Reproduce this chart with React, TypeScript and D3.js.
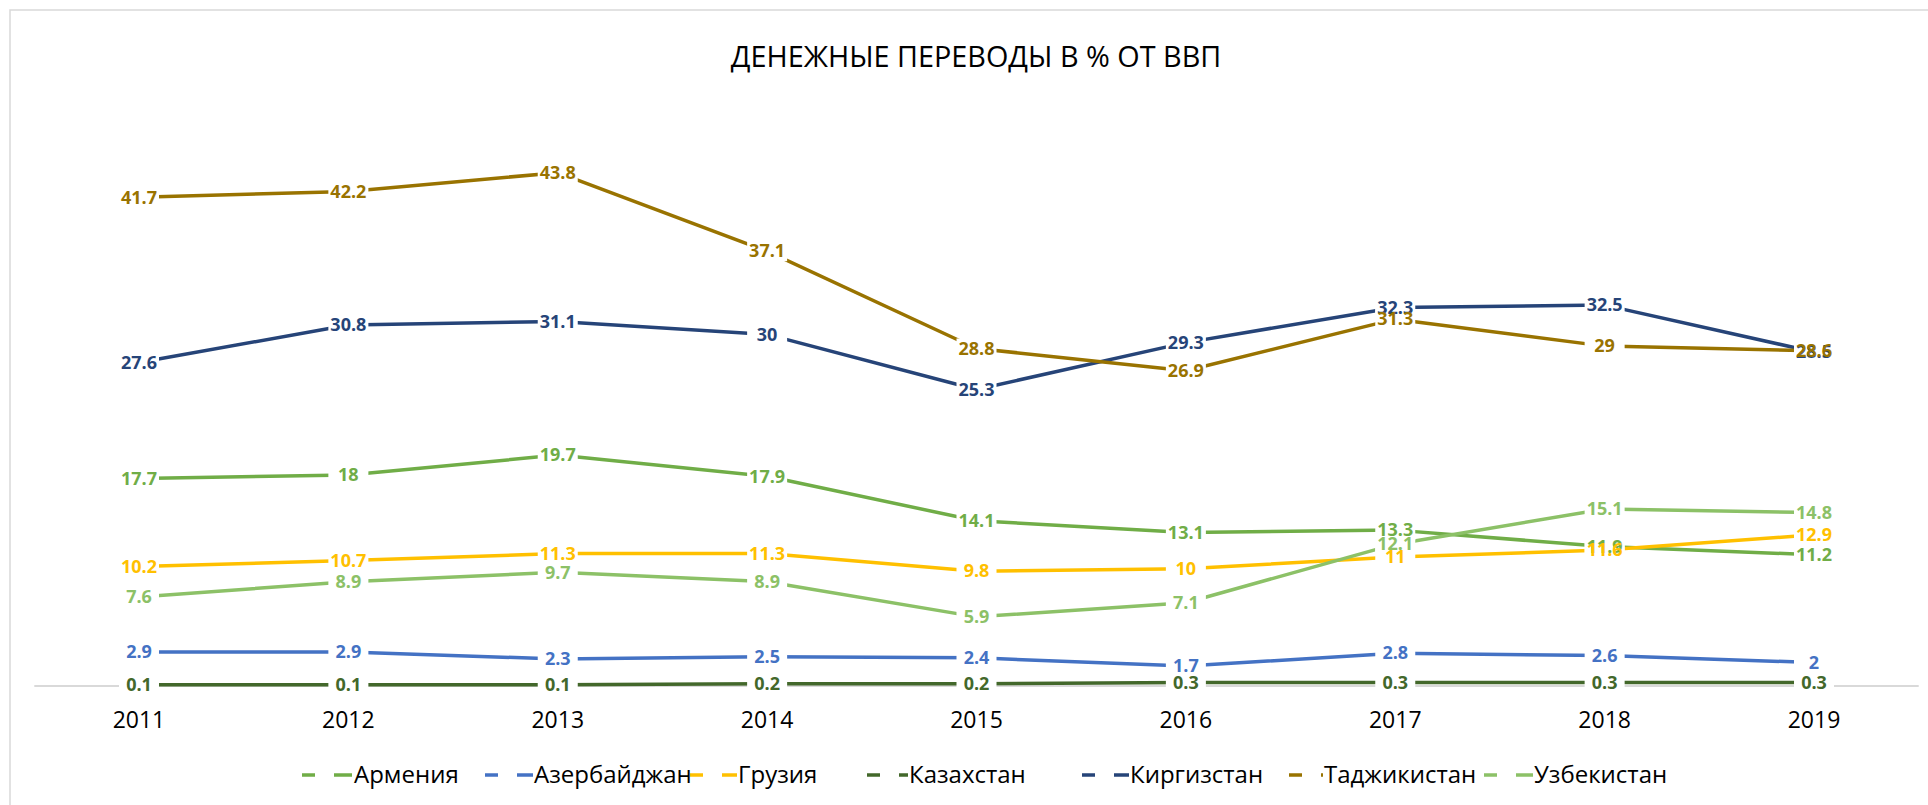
import React from "react";
import * as d3 from "d3";

// values (% of GDP)
const years = ["2011", "2012", "2013", "2014", "2015", "2016", "2017", "2018", "2019"];
const countries = ["Армения", "Азербайджан", "Грузия", "Казахстан", "Киргизстан", "Таджикистан", "Узбекистан"];
const armenia = [17.7, 18, 19.7, 17.9, 14.1, 13.1, 13.3, 11.9, 11.2];
const azerbaijan = [2.9, 2.9, 2.3, 2.5, 2.4, 1.7, 2.8, 2.6, 2];
const georgia = [10.2, 10.7, 11.3, 11.3, 9.8, 10, 11, 11.6, 12.9];
const kazakhstan = [0.1, 0.1, 0.1, 0.2, 0.2, 0.3, 0.3, 0.3, 0.3];
const kyrgyzstan = [27.6, 30.8, 31.1, 30, 25.3, 29.3, 32.3, 32.5, 28.5];
const tajikistan = [41.7, 42.2, 43.8, 37.1, 28.8, 26.9, 31.3, 29, 28.6];
const uzbekistan = [7.6, 8.9, 9.7, 8.9, 5.9, 7.1, 12.1, 15.1, 14.8];
const colors = ["#70AD47", "#4472C4", "#FFC000", "#43682B", "#264478", "#997300", "#8CC167"];

const seriesValues = [armenia, azerbaijan, georgia, kazakhstan, kyrgyzstan, tajikistan, uzbekistan];

// legend layout (key start / text start)
const legendKeyX = [302, 485, 690, 867, 1082, 1289, 1484];
const legendTextX = [354, 534, 738, 909, 1130, 1324, 1534];

const W = 1928;
const H = 805;
const font = "'Open Sans', 'Noto Sans', sans-serif";

export default function App() {
  const x = d3.scaleBand<string>().domain(years).range([34.3, 1918.7]).padding(0);
  const y = d3.scaleLinear().domain([0, 50]).range([686, 100]);
  const cx = (yr: string) => (x(yr) ?? 0) + x.bandwidth() / 2;

  const line = d3
    .line<number>()
    .x((_, i) => cx(years[i]))
    .y((d) => y(d));

  const boxW = 40;
  const boxH = 20;

  return (
    <div style={{ position: "absolute", left: 0, top: 0 }}>
      <svg width={W} height={H} style={{ display: "block" }}>
        <rect x={0} y={0} width={W} height={H} fill="#fff" />
        <rect x={10} y={10} width={W + 20} height={H + 20} fill="none" stroke="#d9d9d9" strokeWidth={1.5} />

        <defs>
          <mask id="labelMask" maskUnits="userSpaceOnUse" x={0} y={0} width={W} height={H}>
            <rect x={0} y={0} width={W} height={H} fill="#fff" />
            {seriesValues.map((vals, s) =>
              vals.map((v, i) => (
                <rect
                  key={`m${s}-${i}`}
                  x={cx(years[i]) - boxW / 2}
                  y={y(v) - boxH / 2}
                  width={boxW}
                  height={boxH}
                  fill="#000"
                />
              ))
            )}
          </mask>
          <mask id="legendMask" maskUnits="userSpaceOnUse" x={0} y={0} width={W} height={H}>
            <rect x={0} y={0} width={W} height={H} fill="#fff" />
            {countries.map((c, i) => (
              <rect key={`lm${c}`} x={legendTextX[i] - 1} y={760} width={c.length * 13.4} height={30} fill="#000" />
            ))}
          </mask>
        </defs>

        <text x={976} y={67} textAnchor="middle" fontFamily={font} fontSize={28.8} fill="#000">
          ДЕНЕЖНЫЕ ПЕРЕВОДЫ В % ОТ ВВП
        </text>

        <g mask="url(#labelMask)">
          <line x1={x.range()[0]} x2={x.range()[1]} y1={y(0)} y2={y(0)} stroke="#d9d9d9" strokeWidth={2} />
          {seriesValues.map((vals, s) => (
            <path key={countries[s]} d={line(vals) ?? ""} fill="none" stroke={colors[s]} strokeWidth={3.5} strokeLinejoin="round" />
          ))}
        </g>

        {seriesValues.map((vals, s) =>
          vals.map((v, i) => (
            <text
              key={`t${s}-${i}`}
              x={cx(years[i])}
              y={y(v)}
              dy="0.35em"
              textAnchor="middle"
              fontFamily={font}
              fontWeight={700}
              fontSize={18}
              fill={colors[s]}
            >
              {String(v)}
            </text>
          ))
        )}

        {years.map((yr) => (
          <text key={yr} x={cx(yr)} y={728} textAnchor="middle" fontFamily={font} fontSize={23} fill="#000">
            {yr}
          </text>
        ))}

        <g mask="url(#legendMask)">
          {countries.map((c, i) => (
            <g key={c}>
              <line x1={legendKeyX[i]} x2={legendKeyX[i] + 13} y1={775} y2={775} stroke={colors[i]} strokeWidth={3.5} />
              <line x1={legendKeyX[i] + 32} x2={legendKeyX[i] + 50} y1={775} y2={775} stroke={colors[i]} strokeWidth={3.5} />
            </g>
          ))}
        </g>
        {countries.map((c, i) => (
          <text key={`lt${c}`} x={legendTextX[i]} y={783} fontFamily={font} fontSize={24} fill="#000">
            {c}
          </text>
        ))}
      </svg>
    </div>
  );
}
